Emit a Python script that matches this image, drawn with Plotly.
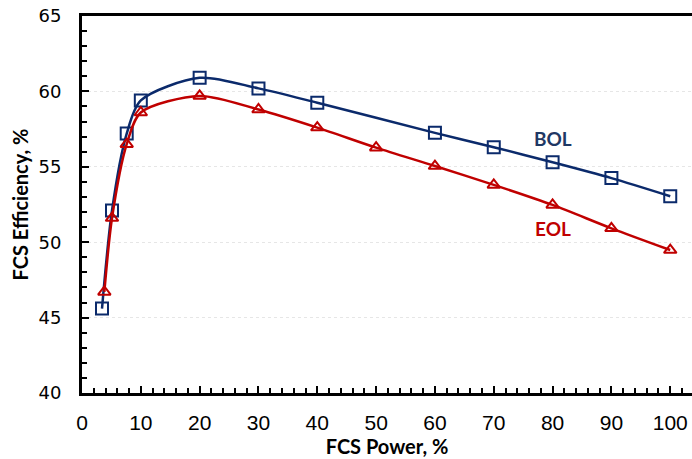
import plotly.graph_objects as go

# FCS efficiency vs. FCS power, beginning and end of life
bol_power = [3.4, 5.1, 7.6, 10, 20, 30, 40, 60, 70, 80, 90, 100]
bol_eff = [45.6, 52.1, 57.2, 59.4, 60.9, 60.2, 59.25, 57.25, 56.3, 55.3, 54.25, 53.05]

eol_power = [3.8, 5.1, 7.6, 10, 20, 30, 40, 50, 60, 70, 80, 90, 100]
eol_eff = [46.7, 51.6, 56.5, 58.6, 59.7, 58.8, 57.6, 56.27, 55.05, 53.8, 52.47, 50.92, 49.48]

x_ticks = [0, 10, 20, 30, 40, 50, 60, 70, 80, 90, 100]
y_ticks = [40, 45, 50, 55, 60, 65]

NAVY = "#0B2A6B"
RED = "#C00000"

fig = go.Figure()
fig.add_trace(go.Scatter(
    x=bol_power, y=bol_eff, mode="lines+markers", name="BOL",
    line=dict(color=NAVY, width=2.5, shape="spline", smoothing=0.8),
    marker=dict(symbol="square-open", size=12, color=NAVY, line=dict(width=2)),
))
fig.add_trace(go.Scatter(
    x=eol_power, y=eol_eff, mode="lines+markers", name="EOL",
    line=dict(color=RED, width=2.5, shape="spline", smoothing=0.8),
    marker=dict(symbol="triangle-up-open", size=11, color=RED, line=dict(width=2)),
))

fig.add_annotation(x=80, y=56.9, text="<b>BOL</b>", showarrow=False,
                   font=dict(family="Lato, Open Sans, sans-serif", size=19, color="#1F3864"))
fig.add_annotation(x=80, y=50.94, text="<b>EOL</b>", showarrow=False,
                   font=dict(family="Lato, Open Sans, sans-serif", size=19, color=RED))

x_tick_font = dict(family="Liberation Sans, Arial, sans-serif", size=21, color="#000000")
y_tick_font = dict(family="DejaVu Sans, sans-serif", size=18, color="#000000")
title_font = dict(family="Lato, Open Sans, sans-serif", size=20, color="#000000")

fig.update_layout(
    width=692, height=459,
    margin=dict(l=82, r=0, t=16, b=66),
    paper_bgcolor="white", plot_bgcolor="white",
    showlegend=False,
    xaxis=dict(
        range=[0, 103.7], tickvals=x_ticks, ticks="inside", ticklen=7, tickwidth=2,
        tickcolor="black", showline=True, linecolor="black", linewidth=3, mirror=True,
        showgrid=False, zeroline=False, tickfont=x_tick_font, ticklabelstandoff=9,
        minor=dict(dtick=2, ticks="inside", ticklen=5, tickwidth=1.5, tickcolor="black", showgrid=False),
        title=dict(text="<b>FCS Power, %</b>", font=title_font, standoff=2),
    ),
    yaxis=dict(
        range=[40, 65], tickvals=y_ticks, ticks="inside", ticklen=7, tickwidth=2,
        tickcolor="black", showline=True, linecolor="black", linewidth=3, mirror=False,
        showgrid=True, gridcolor="#E6E6E6", griddash="dot", gridwidth=1, zeroline=False,
        tickfont=y_tick_font, ticklabelstandoff=14,
        minor=dict(dtick=1, ticks="inside", ticklen=5, tickwidth=1.5, tickcolor="black", showgrid=False),
        title=dict(text="<b>FCS Efficiency, %</b>", font=title_font, standoff=5),
    ),
)

fig.write_html("out.html")
